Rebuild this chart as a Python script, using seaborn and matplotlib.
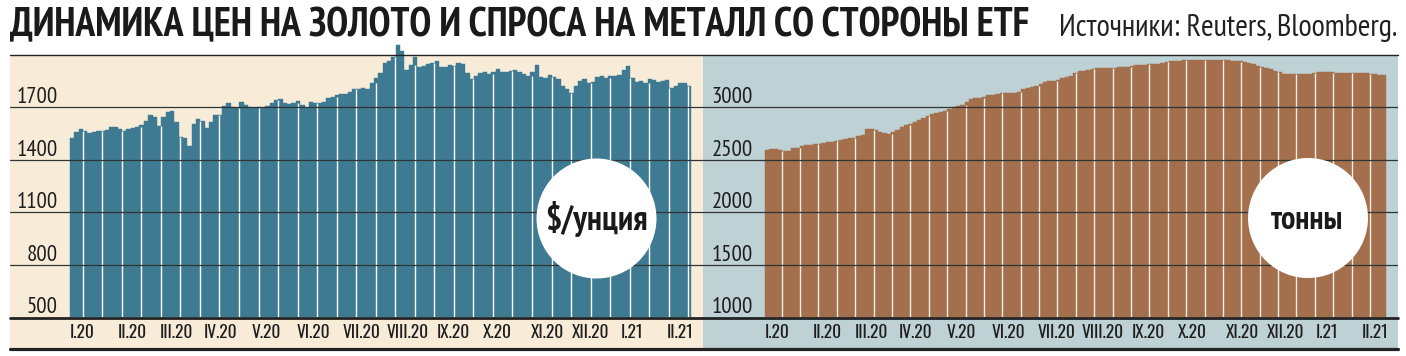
import numpy as np
import pandas as pd
import matplotlib
matplotlib.use("Agg")
import matplotlib.pyplot as plt
import matplotlib.transforms as mtransforms
from matplotlib.patches import Rectangle, Circle
from matplotlib.lines import Line2D
import seaborn as sns

# --- data ---
TITLE = "ДИНАМИКА ЦЕН НА ЗОЛОТО И СПРОСА НА МЕТАЛЛ СО СТОРОНЫ ETF"
SOURCE = "Источники: Reuters, Bloomberg."
MONTHS = ["I.20", "II.20", "III.20", "IV.20", "V.20", "VI.20", "VII.20", "VIII.20",
          "IX.20", "X.20", "XI.20", "XII.20", "I.21", "II.21"]

gold_price = [
    1526, 1560, 1575, 1567, 1554, 1562, 1564, 1567, 1573, 1586,
    1586, 1579, 1564, 1575, 1582, 1586, 1601, 1625, 1657, 1644,
    1594, 1644, 1672, 1682, 1616, 1532, 1522, 1481, 1607, 1631,
    1625, 1582, 1616, 1657, 1657, 1710, 1725, 1700, 1695, 1732,
    1715, 1700, 1695, 1704, 1698, 1710, 1728, 1740, 1747, 1728,
    1719, 1728, 1736, 1713, 1698, 1732, 1728, 1728, 1732, 1751,
    1762, 1770, 1779, 1775, 1788, 1803, 1803, 1809, 1807, 1837,
    1869, 1897, 1957, 1968, 1991, 2056, 2024, 1912, 1944, 1991,
    1934, 1938, 1949, 1957, 1966, 1934, 1929, 1942, 1938, 1953,
    1949, 1897, 1863, 1882, 1897, 1903, 1890, 1901, 1919, 1901,
    1903, 1906, 1912, 1901, 1890, 1882, 1901, 1944, 1875, 1869,
    1888, 1875, 1863, 1822, 1803, 1785, 1822, 1850, 1860, 1837,
    1845, 1875, 1882, 1869, 1879, 1879, 1888, 1916, 1938, 1869,
    1846, 1850, 1841, 1863, 1856, 1845, 1850, 1856, 1813, 1822,
    1837, 1841, 1822,
]

etf_tonnes = [
    2598, 2603, 2600, 2595, 2585, 2588, 2608, 2617, 2630, 2640,
    2645, 2648, 2652, 2665, 2670, 2673, 2680, 2689, 2695, 2705,
    2711, 2725, 2740, 2790, 2798, 2780, 2770, 2755, 2750, 2770,
    2785, 2815, 2830, 2845, 2865, 2878, 2895, 2920, 2935, 2950,
    2955, 2970, 2985, 3005, 3015, 3025, 3050, 3080, 3088, 3092,
    3100, 3115, 3120, 3130, 3133, 3135, 3137, 3140, 3150, 3175,
    3188, 3195, 3205, 3225, 3240, 3248, 3255, 3265, 3280, 3290,
    3300, 3330, 3345, 3348, 3355, 3368, 3375, 3373, 3374, 3376,
    3380, 3382, 3384, 3390, 3398, 3403, 3405, 3407, 3410, 3416,
    3418, 3425, 3432, 3438, 3440, 3445, 3452, 3455, 3455, 3456,
    3455, 3454, 3452, 3450, 3452, 3450, 3448, 3447, 3446, 3440,
    3430, 3420, 3410, 3395, 3385, 3378, 3365, 3350, 3335, 3322,
    3320, 3318, 3318, 3320, 3318, 3320, 3332, 3338, 3340, 3342,
    3338, 3330, 3330, 3328, 3330, 3328, 3327, 3326, 3327, 3318,
    3315, 3312, 3308,
]

gold_ticks = [800, 1100, 1400, 1700]
etf_ticks = [1500, 2000, 2500, 3000]

# --- layout (pixels of the 1406x356 canvas) ---
W, H = 1406, 356
sns.set_theme(style="white")
FAMILY = ["PT Sans Narrow", "Liberation Sans", "DejaVu Sans"]
plt.rcParams["font.family"] = FAMILY
TICK_FAMILY = ["Oswald", "PT Sans Narrow", "Liberation Sans", "DejaVu Sans"]

fig = plt.figure(figsize=(W / 100, H / 100), dpi=100)
fig.patch.set_facecolor("white")
renderer = fig.canvas.get_renderer()


def fx(px):
    return px / W


def fy(py):
    return 1 - py / H


def fit_width(txt, width_px):
    # scale a text so that it spans the width seen in the reference
    bb = txt.get_window_extent(renderer)
    txt.set_fontsize(txt.get_fontsize() * width_px / bb.width)


label_off = [12, 62, 106, 151, 196, 243, 292, 338, 383, 427, 477, 521, 562, 610]

panels = [
    dict(vals=gold_price, left=10, right=703, bar0=70, bar1=691, ymin=500, ymax=2000,
         ticks=gold_ticks, lab_x=58, bar_col="#3e7a92", bg="#f8ecd9",
         sep_col="#ffffff", sep0=12.7, sep_step=19.535, n_sep=32,
         unit="$/унция", unit_w=102, circ=(596.5, 218.5), txt=(596, 219)),
    dict(vals=etf_tonnes, left=703, right=1398, bar0=765, bar1=1386, ymin=1000, ymax=3500,
         ticks=etf_ticks, lab_x=753, bar_col="#a46f4c", bg="#bed1d4",
         sep_col="#f4efe6", sep0=16.7, sep_step=18.385, n_sep=33,
         unit="тонны", unit_w=72, circ=(1308, 218), txt=(1307, 221)),
]

for p in panels:
    # panel background incl. the label strip
    fig.patches.append(Rectangle((fx(p["left"]), fy(348)), fx(p["right"] - p["left"]),
                                 (348 - 55) / H, transform=fig.transFigure,
                                 facecolor=p["bg"], edgecolor="none", zorder=-5))

    ax = fig.add_axes([fx(p["left"]), fy(317), fx(p["right"] - p["left"]), (317 - 55) / H])
    ax.set_facecolor("none")
    vals = p["vals"]
    n = len(vals)
    df = pd.DataFrame({"i": np.arange(n), "v": vals})
    sns.barplot(data=df, x="i", y="v", color=p["bar_col"], width=1.0, saturation=1,
                edgecolor=p["bar_col"], linewidth=0.3, ax=ax)
    pxper = (p["bar1"] - p["bar0"]) / n
    ax.set_xlim(-0.5 - (p["bar0"] - p["left"]) / pxper,
                n - 0.5 + (p["right"] - p["bar1"]) / pxper)
    ax.set_ylim(p["ymin"], p["ymax"])

    # let the bars poke above the top rule (August peak)
    for bar in ax.patches:
        bar.set_clip_path(Rectangle((0, 0), 1, 1.2, transform=ax.transAxes))

    # thin separators inside the bars
    sx, sh = [], []
    for k in range(p["n_sep"]):
        pos = -0.5 + (p["sep0"] + k * p["sep_step"]) / pxper
        lo, hi = max(int(np.floor(pos)), 0), min(int(np.ceil(pos)), n - 1)
        sx.append(pos)
        sh.append(min(vals[lo], vals[hi]))
    ax.vlines(sx, p["ymin"], sh, color=p["sep_col"], lw=1.0, zorder=4)

    # horizontal rules on top of bars
    for t in p["ticks"]:
        ax.axhline(t, color="#2f3537", lw=0.9, zorder=5)

    # value labels sitting above each rule
    blend = mtransforms.blended_transform_factory(ax.transAxes, ax.transData)
    lab_tr = mtransforms.offset_copy(blend, fig=fig, x=0, y=4, units="dots")
    xa = (p["lab_x"] - p["left"]) / (p["right"] - p["left"])
    for t in [p["ymin"]] + p["ticks"]:
        ax.text(xa, t, f"{t}", transform=lab_tr, ha="right", va="baseline",
                fontsize=16.5, color="#1e1e1e")

    ax.set_xticks([-0.5 + o / pxper for o in label_off], MONTHS)
    ax.set_yticks([])
    ax.tick_params(axis="x", length=0, pad=5.0, labelsize=12.5, labelcolor="#1e1e1e")
    for lbl in ax.get_xticklabels():
        lbl.set_family(TICK_FAMILY)
    ax.set_xlabel("")
    ax.set_ylabel("")
    sns.despine(ax=ax, left=True, bottom=True)

    # white badge with the unit
    cx, cy = p["circ"]
    fig.add_artist(Circle((cx / 100, (H - cy) / 100), 0.60, transform=fig.dpi_scale_trans,
                          facecolor="white", edgecolor="none", zorder=6))
    tx, ty = p["txt"]
    ut = fig.text(fx(tx), fy(ty), p["unit"], ha="center", va="center", fontsize=22,
                  fontweight="bold", color="#1a1a1a", zorder=7)
    fit_width(ut, p["unit_w"])

# frame rules
fig.add_artist(Line2D([fx(10), fx(1398)], [fy(55), fy(55)], color="#222222", lw=1.0, zorder=8))
fig.add_artist(Line2D([fx(10), fx(1398)], [fy(318), fy(318)], color="#222222", lw=2.0, zorder=8))
fig.add_artist(Line2D([fx(10), fx(1398)], [fy(348.5), fy(348.5)], color="#222222", lw=2.3, zorder=8))

title = fig.text(fx(10), fy(36.5), TITLE, ha="left", va="baseline", fontsize=26,
                 fontweight="bold", color="#1a1a1a")
fit_width(title, 1018)
src = fig.text(fx(1397), fy(36.5), SOURCE, ha="right", va="baseline", fontsize=18,
               color="#222222")
fit_width(src, 339)

fig.savefig("out.png", dpi=100)
